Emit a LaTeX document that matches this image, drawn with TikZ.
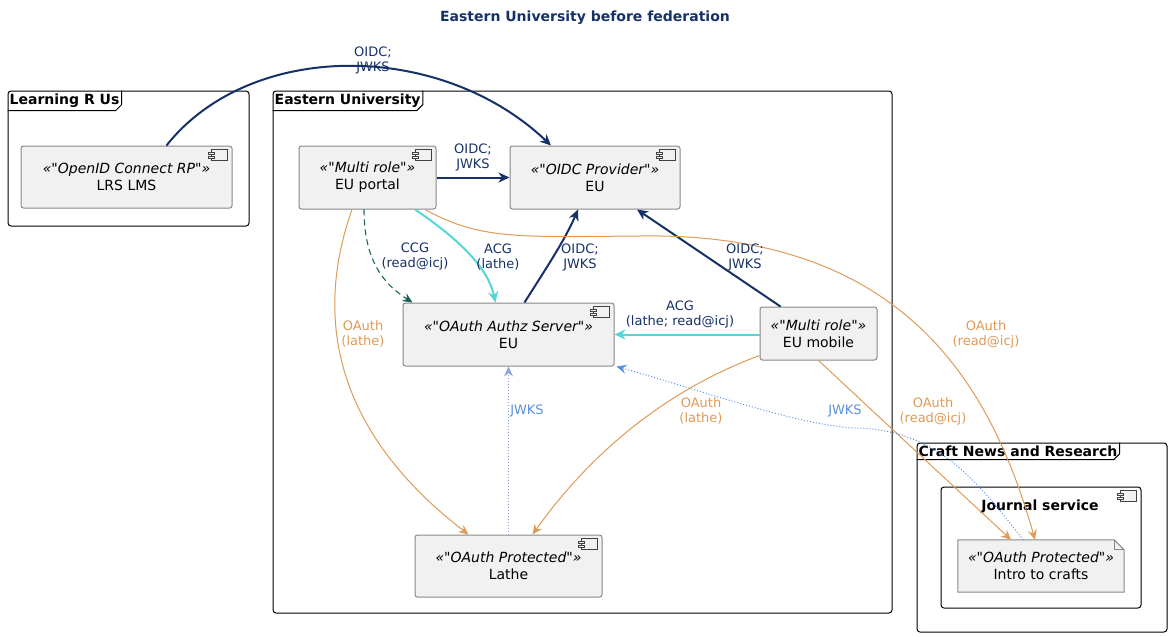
\documentclass[tikz,border=0pt]{standalone}
\usepackage{fontspec}
\setmainfont{DejaVu Sans}[Ligatures=TeXOff]
\usetikzlibrary{arrows.meta,calc}

\definecolor{navy}{RGB}{22,48,104}
\definecolor{aqua}{RGB}{84,214,214}
\definecolor{tealdk}{RGB}{24,100,92}
\definecolor{sand}{RGB}{222,154,86}
\definecolor{jblue}{RGB}{92,142,222}
\definecolor{jgray}{RGB}{140,165,215}
\definecolor{boxfill}{RGB}{241,241,241}
\definecolor{boxline}{RGB}{136,136,136}

\tikzset{
  comp/.style={draw=boxline, fill=boxfill, line width=1pt, rounded corners=2.5pt,
    align=center, font=\fontsize{14}{17}\selectfont, inner sep=0pt},
  umlframe/.style={draw, line width=1pt, rounded corners=3pt, inner sep=0pt},
  tabtext/.style={anchor=north west, font=\fontsize{14}{16}\bfseries\selectfont,
    inner xsep=2pt, inner ysep=3pt},
  lbl/.style={align=center, font=\fontsize{13}{15}\selectfont, inner sep=1pt},
  thick arrow/.style={line width=2pt, -{Stealth[length=11pt,width=10pt,inset=3.5pt]}},
  thin arrow/.style={line width=1pt, -{Stealth[length=10pt,width=9pt,inset=3.5pt]}},
  icon/.style={draw=black!75, line width=0.8pt, fill=boxfill}
}

% component icon at the top right corner of a node
\newcommand{\compicon}[1]{%
  \draw[icon] ($(#1.north east)+(-21,4)$) rectangle ($(#1.north east)+(-5,15)$);
  \draw[icon] ($(#1.north east)+(-24,6.5)$) rectangle ($(#1.north east)+(-18,9)$);
  \draw[icon] ($(#1.north east)+(-24,10.5)$) rectangle ($(#1.north east)+(-18,13)$);
}
% frame tab
\newcommand{\frametab}[1]{%
  \draw[line width=1pt] (#1.south west) -- ($(#1.south east)+(-6,0)$)
    -- ($(#1.south east)+(0,-6)$) -- (#1.north east);
}

\begin{document}
\begin{tikzpicture}[x=1pt,y=-1pt]
\useasboundingbox (0,0) rectangle (1170,637);

\node[font=\fontsize{14}{16}\bfseries\selectfont, text=navy] (title) at (585,18)
  {Eastern University before federation};

% frames
\node[umlframe, minimum width=241, minimum height=135] (lru) at (128.5,158.5) {};
\node[tabtext] (lrutab) at (lru.north west) {Learning R Us};
\frametab{lrutab}
\node[umlframe, minimum width=619, minimum height=522] (eu) at (582.5,352) {};
\node[tabtext] (eutab) at (eu.north west) {Eastern University};
\frametab{eutab}
\node[umlframe, minimum width=250, minimum height=189] (cnr) at (1042,537.5) {};
\node[tabtext] (cnrtab) at (cnr.north west) {Craft News and Research};
\frametab{cnrtab}
\node[umlframe, minimum width=200, minimum height=121] (journal) at (1041,547.5) {};
\node[font=\fontsize{14}{16}\bfseries\selectfont] (journaltxt) at (1040,507) {Journal service};
\compicon{journal}

% components
\node[comp, minimum width=211, minimum height=62] (lrs) at (126.5,177)
  {\textit{«"OpenID Connect RP"»}\\LRS LMS};
\compicon{lrs}
\node[comp, minimum width=137, minimum height=63] (portal) at (367.5,177.5)
  {\textit{«"Multi role"»}\\EU portal};
\compicon{portal}
\node[comp, minimum width=170, minimum height=63] (oidc) at (595,177.5)
  {\textit{«"OIDC Provider"»}\\EU};
\compicon{oidc}
\node[comp, minimum width=211, minimum height=63] (authz) at (508.5,334.5)
  {\textit{«"OAuth Authz Server"»}\\EU};
\compicon{authz}
\node[comp, minimum width=117, minimum height=53] (mobile) at (818.5,333.5)
  {\textit{«"Multi role"»}\\EU mobile};
\node[comp, minimum width=187, minimum height=62] (lathe) at (508.5,566)
  {\textit{«"OAuth Protected"»}\\Lathe};
\compicon{lathe}
\node[align=center, font=\fontsize{14}{17}\selectfont, minimum width=166, minimum height=52,
  inner sep=0pt] (intro) at (1041,566) {\textit{«"OAuth Protected"»}\\Intro to crafts};
\draw[draw=boxline, fill=boxfill, line width=1pt] (intro.north west) -- ($(intro.north east)+(-10,0)$)
  -- ($(intro.north east)+(0,10)$) -- (intro.south east) -- (intro.south west) -- cycle;
\draw[draw=boxline, line width=1pt] ($(intro.north east)+(-10,0)$) -- ($(intro.north east)+(-10,10)$)
  -- ($(intro.north east)+(0,10)$);
\node[align=center, font=\fontsize{14}{17}\selectfont] (introtxt) at (intro.center)
  {\textit{«"OAuth Protected"»}\\Intro to crafts};

% OIDC / JWKS
\draw[thick arrow, navy] ($(lrs.north)+(40,0)$) .. controls (250,40) and (440,40) .. ($(oidc.north)+(-44,0)$);
\draw[thick arrow, navy] (portal.east) -- (oidc.west);
\draw[thick arrow, navy] ($(authz.north)+(16,0)$) .. controls (545,270) and (565,240) .. ($(oidc.south)+(-17,0)$);
\draw[thick arrow, navy] ($(mobile.north)+(-38,0)$) -- ($(oidc.south)+(42,0)$);

% grants
\draw[tealdk, line width=1.1pt, dashed, dash pattern=on 6pt off 4pt,
  -{Stealth[length=10pt,width=9pt,inset=3.5pt]}]
  ($(portal.south)+(-3.5,0)$) .. controls (364,262) and (385,285) .. ($(authz.north)+(-96,0)$);
\draw[thick arrow, aqua] ($(portal.south)+(47.5,0)$) .. controls (460,240) and (488,268) .. ($(authz.north)+(-13,0)$);
\draw[thick arrow, aqua] (mobile.west |- authz.east) -- (authz.east);

% OAuth
\draw[thin arrow, sand] ($(portal.south)+(-15.5,0)$) .. controls (320,300) and (320,420) .. ($(lathe.north)+(-40,0)$);
\draw[thin arrow, sand] ($(portal.south)+(57.5,0)$) .. controls (480,240) and (520,237) .. (640,236)
  .. controls (900,232) and (990,380) .. ($(intro.north)+(-6,0)$);
\draw[thin arrow, sand] ($(mobile.south west)+(0,-5)$) .. controls (680,385) and (600,440) .. ($(lathe.north)+(24,0)$);
\draw[thin arrow, sand] (mobile.south) -- ($(intro.north)+(-30,0)$);

% JWKS
\draw[thin arrow, jblue, dotted] ($(intro.north)+(-18,0)$) .. controls (970,470) and (930,430) .. (856,428)
  .. controls (800,426) and (700,390) .. ($(authz.south east)+(2,0)$);
\draw[thin arrow, jgray, dotted] (lathe.north) -- (authz.south);

% labels
\node[lbl, text=navy] (l1) at (373,60) {OIDC;\\JWKS};
\node[lbl, text=navy] (l2) at (473,157) {OIDC;\\JWKS};
\node[lbl, text=navy] (l3) at (415,257) {CCG\\(read@icj)};
\node[lbl, text=navy] (l4) at (498,257) {ACG\\(lathe)};
\node[lbl, text=navy] (l5) at (580,257) {OIDC;\\JWKS};
\node[lbl, text=navy] (l6) at (745,257) {OIDC;\\JWKS};
\node[lbl, text=navy] (l7) at (680,315) {ACG\\(lathe; read@icj)};
\node[lbl, text=sand] (l8) at (363,334) {OAuth\\(lathe)};
\node[lbl, text=sand] (l9) at (986,334) {OAuth\\(read@icj)};
\node[lbl, text=jblue] (l10) at (527,411) {JWKS};
\node[lbl, text=sand] (l11) at (701,411) {OAuth\\(lathe)};
\node[lbl, text=jblue] (l12) at (845,411) {JWKS};
\node[lbl, text=sand] (l13) at (933,411) {OAuth\\(read@icj)};
\end{tikzpicture}
\end{document}
